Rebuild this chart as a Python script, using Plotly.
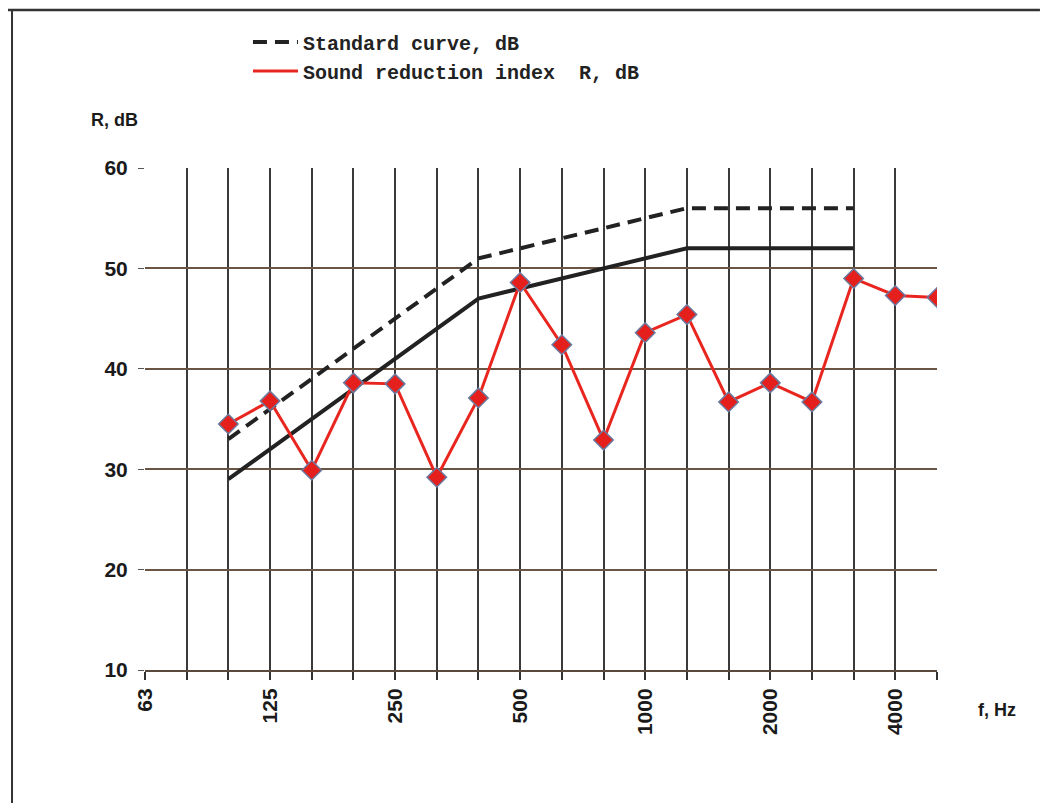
import plotly.graph_objects as go

freqs = ["63", "80", "100", "125", "160", "200", "250", "315", "400", "500",
         "630", "800", "1000", "1250", "1600", "2000", "2500", "3150", "4000", "5000"]
tick_labels = ["63", "", "", "125", "", "", "250", "", "", "500",
               "", "", "1000", "", "", "2000", "", "", "4000", ""]

curve_freqs = ["100", "125", "160", "200", "250", "315", "400", "500",
               "630", "800", "1000", "1250", "1600", "2000", "2500", "3150"]
standard_curve = [33, 36, 39, 42, 45, 48, 51, 52, 53, 54, 55, 56, 56, 56, 56, 56]
shifted_curve = [29, 32, 35, 38, 41, 44, 47, 48, 49, 50, 51, 52, 52, 52, 52, 52]

r_freqs = ["100", "125", "160", "200", "250", "315", "400", "500", "630",
           "800", "1000", "1250", "1600", "2000", "2500", "3150", "4000", "5000"]
r_values = [34.5, 36.8, 29.9, 38.6, 38.5, 29.2, 37.1, 48.6, 42.4,
            32.9, 43.6, 45.4, 36.7, 38.6, 36.7, 49.0, 47.3, 47.1]

RED = "#e8261f"

fig = go.Figure()
fig.add_trace(go.Scatter(
    x=curve_freqs, y=standard_curve, mode="lines", name="Standard curve, dB",
    line=dict(color="#222222", width=4, dash="14px,8px")))
fig.add_trace(go.Scatter(
    x=curve_freqs, y=shifted_curve, mode="lines", showlegend=False,
    line=dict(color="#222222", width=4)))
fig.add_trace(go.Scatter(
    x=r_freqs, y=r_values, mode="lines+markers", showlegend=False,
    line=dict(color=RED, width=3),
    marker=dict(symbol="diamond", size=15, color="#e5201c",
                line=dict(color="#6a7aa0", width=1.5))))
# legend entry (line only) for the measured curve
fig.add_trace(go.Scatter(
    x=[None], y=[None], mode="lines", name="Sound reduction index  R, dB",
    line=dict(color=RED, width=3)))

fig.update_layout(
    width=1041, height=795,
    margin=dict(l=137, r=112, t=160, b=133),
    paper_bgcolor="white", plot_bgcolor="white",
    font=dict(family="Liberation Sans, Arial", size=21, color="#1a1a1a"),
    legend=dict(x=0.13, y=1.29, xanchor="left", yanchor="top",
                bgcolor="rgba(0,0,0,0)",
                font=dict(family="Liberation Mono", size=20, color="#222222", weight="bold"),
                itemwidth=45, tracegroupgap=2),
    showlegend=True,
)
fig.update_xaxes(
    type="category", categoryorder="array", categoryarray=freqs,
    range=[0, 19], tickmode="array", tickvals=freqs, ticktext=tick_labels,
    tickangle=-90, ticks="outside", ticklen=8, tickwidth=1.5, tickcolor="#333333",
    showgrid=True, gridcolor="#3a3a3a", gridwidth=1.5,
    showline=True, linecolor="#5a4a3e", linewidth=2,
    tickfont=dict(family="Liberation Sans, Arial", size=21, color="#1a1a1a", weight="bold"),
    zeroline=False)
fig.update_yaxes(
    range=[10, 60], dtick=10, ticks="outside", ticklen=6, tickcolor="#555555",
    ticklabelstandoff=6,
    showgrid=True, gridcolor="#6a5444", gridwidth=1.5,
    showline=False, zeroline=False,
    tickfont=dict(family="Liberation Sans, Arial", size=21, color="#1a1a1a", weight="bold"))

fig.add_annotation(text="<b>R, dB</b>", xref="paper", yref="paper",
                   x=-0.039, y=1.096, xanchor="center", yanchor="middle",
                   showarrow=False, font=dict(size=18))
fig.add_annotation(text="<b>f, Hz</b>", xref="paper", yref="paper",
                   x=1.0758, y=-0.08, xanchor="center", yanchor="middle",
                   showarrow=False, font=dict(size=18))

# outer frame lines
fig.add_shape(type="line", xref="paper", yref="paper",
              x0=-0.177, x1=1.13, y0=1.3147, y1=1.3147,
              line=dict(color="#333333", width=2.5))
fig.add_shape(type="line", xref="paper", yref="paper",
              x0=-0.1679, x1=-0.1679, y0=1.3147, y1=-0.27,
              line=dict(color="#333333", width=2))

fig.write_html("out.html")
